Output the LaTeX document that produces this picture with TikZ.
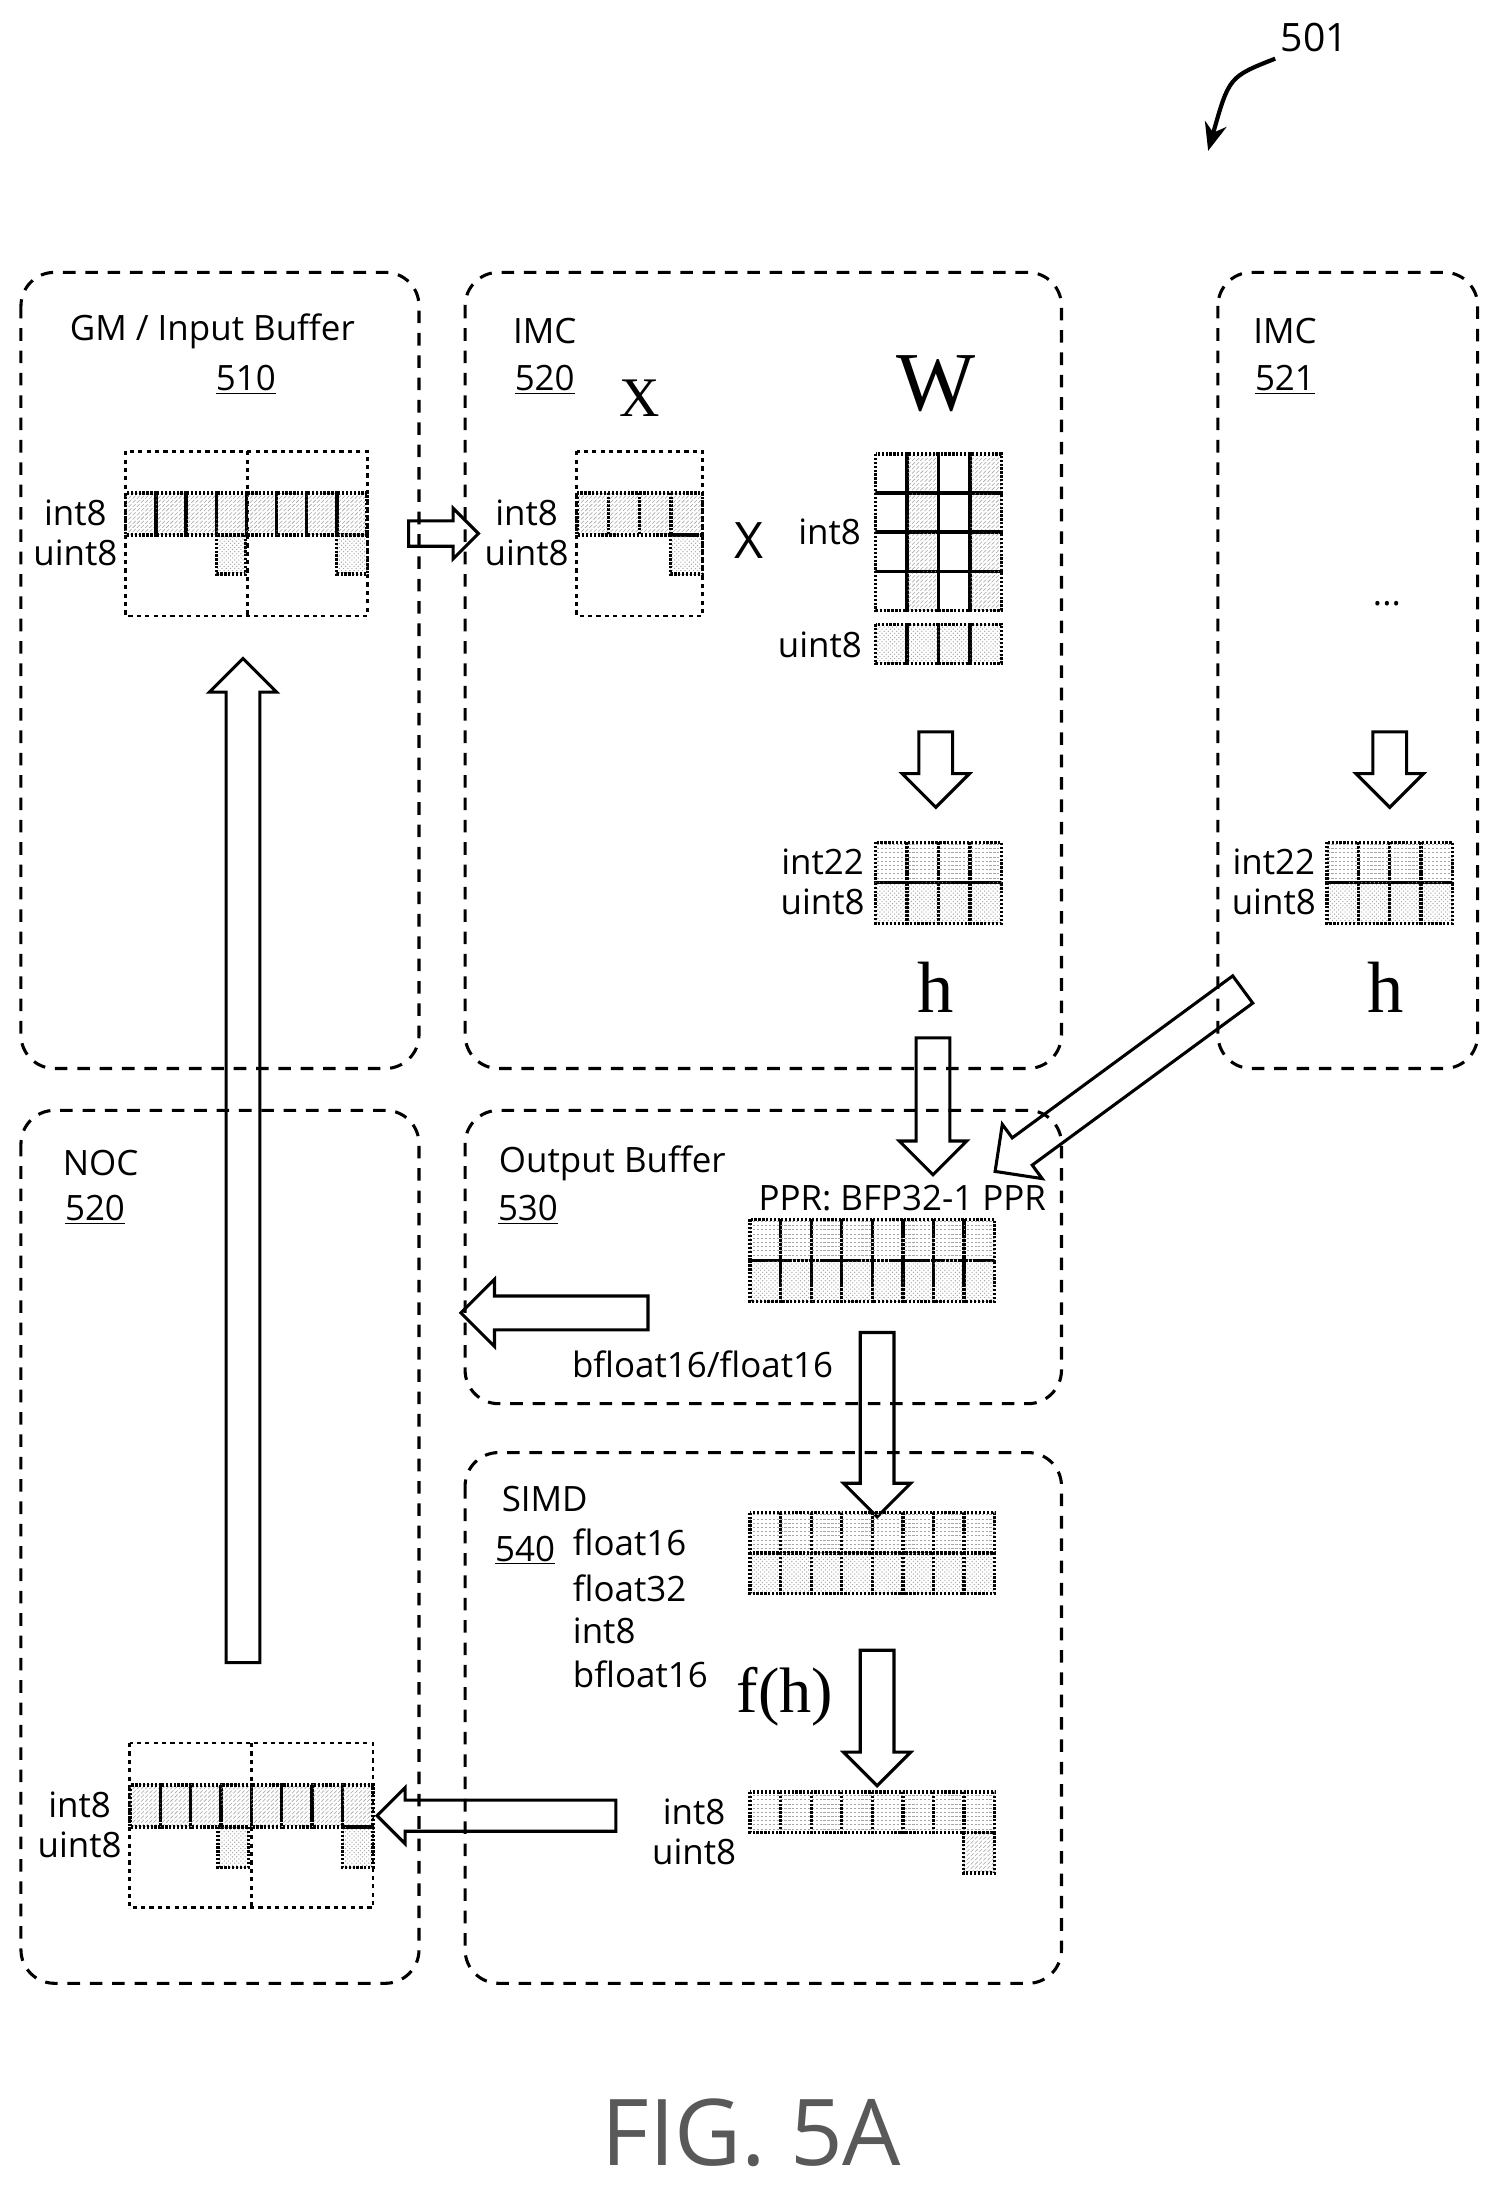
\documentclass[tikz,border=0pt]{standalone}
\usepackage{fontspec}
\setmainfont{Open Sans}
\newfontfamily\serifx{Liberation Serif}
\usetikzlibrary{patterns,shapes.arrows,arrows.meta}
\begin{document}
\begin{tikzpicture}[x=1pt,y=-1pt,
 box/.style={draw,line width=2.2pt,dash pattern=on 9pt off 7pt,rounded corners=24pt},
 cell/.style={draw,line width=2.4pt,dash pattern=on 1.6pt off 1.2pt,pattern color=gray!70},
 outl/.style={draw,line width=2pt,dash pattern=on 3pt off 3pt},
 harr/.style={single arrow,draw,line width=2.2pt,inner xsep=0pt,inner ysep=11pt,single arrow head extend=12pt},
 lab/.style={font=\fontsize{25}{28}\selectfont,inner sep=0pt},
 ser/.style={font=\serifx\fontsize{52}{56}\selectfont,inner sep=0pt}]
\useasboundingbox (0,0) rectangle (1072,1568);
% boxes
\draw[box] (15,195) rectangle (300,765);
\draw[box] (333,195) rectangle (760,765);
\draw[box] (872,195) rectangle (1058,765);
\draw[box] (15,795) rectangle (300,1420);
\draw[box] (333,795) rectangle (760,1005);
\draw[box] (333,1040) rectangle (760,1420);
% titles
\node[lab] (t1) at (152,237) {GM / Input Buffer};
\node[lab] (n1) at (176,272) {\underline{510}};
\node[lab] (t2) at (390,237) {IMC};
\node[lab] (n2) at (390,272) {\underline{520}};
\node[lab] (t3) at (920,237) {IMC};
\node[lab] (n3) at (920,272) {\underline{521}};
\node[lab] (t4) at (72,833) {NOC};
\node[lab] (n4) at (68,866) {\underline{520}};
\node[lab,anchor=west] (t5) at (357,833) {Output Buffer};
\node[lab] (n5) at (378,866) {\underline{530}};
\node[lab] (t6) at (390,1073) {SIMD};
\node[lab] (n6) at (376,1110) {\underline{540}};
% 501
\node[lab,font=\fontsize{28}{30}\selectfont] (r501) at (941,27) {501};
\coordinate (c501a) at (913,42);
\coordinate (c501b) at (865,108);
\draw[line width=3pt,-{Stealth[length=20pt,width=16pt]}] (c501a) .. controls (880,55) .. (c501b);
% GM vector
\draw[outl] (90,323) rectangle (263,441); \draw[outl] (177,323) -- (177,441);
\foreach \i in {0,...,7}{\draw[cell,pattern=north east lines] (90+\i*21.6,353) rectangle ++(21.6,30);}
\draw[cell,pattern=crosshatch dots] (155,383) rectangle (176,411);
\draw[cell,pattern=crosshatch dots] (241,383) rectangle (263,411);
\node[lab] (g1) at (54,367) {int8};
\node[lab] (g2) at (54,396) {uint8};
\node[harr,minimum height=50pt,inner ysep=8pt,single arrow head extend=9pt] (a1) at (313,382) {};
% IMC X
\node[ser,font=\serifx\fontsize{40}{44}\selectfont] (xx) at (458,285) {X};
\draw[outl] (413,323) rectangle (503,441);
\foreach \i in {0,...,3}{\draw[cell,pattern=north east lines] (413+\i*22.5,353) rectangle ++(22.5,30);}
\draw[cell,pattern=crosshatch dots] (480,383) rectangle (503,411);
\node[lab] (x1) at (377,367) {int8};
\node[lab] (x2) at (377,396) {uint8};
\node[lab,font=\fontsize{36}{40}\selectfont] (mul) at (536,387) {X};
% W
\node[ser,font=\serifx\fontsize{60}{64}\selectfont] (w) at (670,275) {W};
\foreach \i in {0,...,3}{\foreach \j in {0,...,3}{
 \pgfmathtruncatemacro\k{mod(\i,2)}
 \ifnum\k=1 \draw[cell,pattern=north east lines] (627+\i*22.5,325+\j*28) rectangle ++(22.5,28);
 \else \draw[cell] (627+\i*22.5,325+\j*28) rectangle ++(22.5,28);\fi}}
\foreach \i in {0,...,3}{\draw[cell,pattern=crosshatch dots] (627+\i*22.5,447) rectangle ++(22.5,28);}
\node[lab] (w1) at (594,381) {int8};
\node[lab] (w2) at (587,462) {uint8};
\node[harr,minimum height=54pt,rotate=-90] (a2) at (670,545) {};
% h block 520
\foreach \i in {0,...,3}{\draw[cell,pattern=horizontal lines] (627+\i*22.5,603) rectangle ++(22.5,29);
 \draw[cell,pattern=crosshatch dots] (627+\i*22.5,632) rectangle ++(22.5,29);}
\node[lab] (h1) at (589,617) {int22};
\node[lab] (h2) at (589,646) {uint8};
\node[ser] (hh1) at (670,707) {h};
% 521
\node[lab] (dots) at (993,432) {...};
\node[harr,minimum height=54pt,rotate=-90] (a3) at (995,545) {};
\foreach \i in {0,...,3}{\draw[cell,pattern=horizontal lines] (950+\i*22.5,603) rectangle ++(22.5,29);
 \draw[cell,pattern=crosshatch dots] (950+\i*22.5,632) rectangle ++(22.5,29);}
\node[lab] (k1) at (912,617) {int22};
\node[lab] (k2) at (912,646) {uint8};
\node[ser] (hh2) at (992,707) {h};
% arrows to PPR
\node[harr,minimum height=98pt,rotate=-90] (a4) at (668,786) {};
\node[harr,minimum height=220pt,rotate=216.3] (a5) at (806,770) {};
\node[lab] (ppr) at (646,858) {PPR: BFP32-1 PPR};
\foreach \i in {0,...,7}{\draw[cell,pattern=horizontal lines] (537+\i*21.9,873) rectangle ++(21.9,29.5);
 \draw[cell,pattern=crosshatch dots] (537+\i*21.9,902.5) rectangle ++(21.9,29.5);}
\node[harr,minimum height=134pt,rotate=180] (a6) at (403,940) {};
\node[lab] (bf) at (503,977) {bfloat16/float16};
\node[harr,minimum height=132pt,rotate=-90] (a7) at (628,1014) {};
% SIMD
\foreach \i in {0,...,7}{\draw[cell,pattern=horizontal lines] (537+\i*21.9,1083) rectangle ++(21.9,29);
 \draw[cell,pattern=crosshatch dots] (537+\i*21.9,1112) rectangle ++(21.9,29);}
\node[lab,anchor=west] (s1) at (410,1104) {float16};
\node[lab,anchor=west] (s2) at (410,1137) {float32};
\node[lab,anchor=west] (s3) at (410,1168) {int8};
\node[lab,anchor=west] (s4) at (410,1199) {bfloat16};
\node[ser,font=\serifx\fontsize{46}{50}\selectfont] (fh) at (562,1215) {f(h)};
\node[harr,minimum height=97pt,rotate=-90] (a8) at (628,1224) {};
\foreach \i in {0,...,7}{\draw[cell,pattern=horizontal lines] (537+\i*21.9,1283) rectangle ++(21.9,29);}
\draw[cell,pattern=north east lines] (690,1312) rectangle (712,1341);
\node[lab] (o1) at (497,1297) {int8};
\node[lab] (o2) at (497,1326) {uint8};
\node[harr,minimum height=171pt,inner ysep=10pt,single arrow head extend=9pt,rotate=180] (a9) at (361,1300) {};
% NOC vector
\draw[outl] (93,1248) rectangle (267,1366); \draw[outl] (180,1248) -- (180,1366);
\foreach \i in {0,...,7}{\draw[cell,pattern=north east lines] (93+\i*21.75,1278) rectangle ++(21.75,30);}
\draw[cell,pattern=crosshatch dots] (156,1308) rectangle (178,1337);
\draw[cell,pattern=crosshatch dots] (245,1308) rectangle (267,1337);
\node[lab] (m1) at (57,1292) {int8};
\node[lab] (m2) at (57,1321) {uint8};
\node[harr,minimum height=719pt,rotate=90] (a10) at (174,837) {};
% caption
\node[inner sep=0pt,text=gray!70!black,font=\fontsize{66}{70}\selectfont] (fig) at (538,1527) {FIG. 5A};
\end{tikzpicture}
\end{document}
